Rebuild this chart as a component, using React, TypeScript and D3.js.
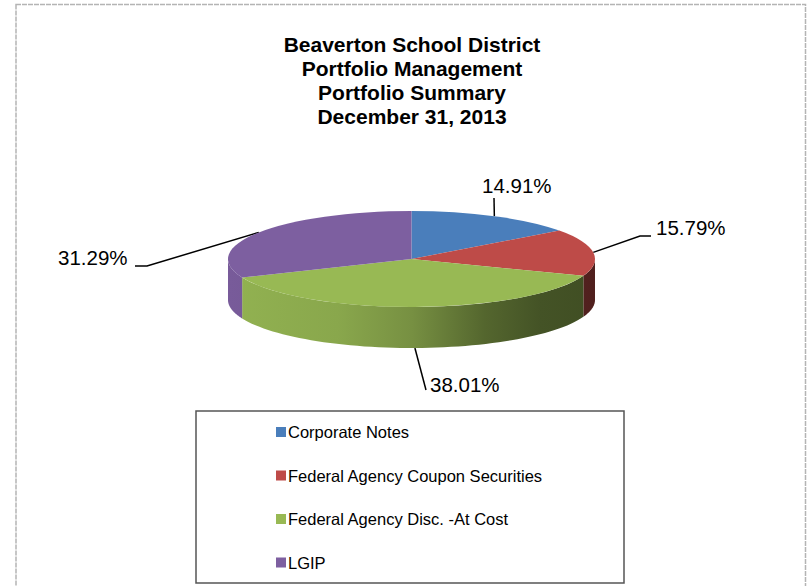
import React from 'react';
import * as d3 from 'd3';

const categories = [
  'Corporate Notes',
  'Federal Agency Coupon Securities',
  'Federal Agency Disc. -At Cost',
  'LGIP',
];
const values = [14.91, 15.79, 38.01, 31.29];
const colors = ['#4A7EBB', '#BE4B48', '#98B954', '#7D5FA0'];
const titleLines = [
  'Beaverton School District',
  'Portfolio Management',
  'Portfolio Summary',
  'December 31, 2013',
];

// layout (not data)
const W = 808;
const H = 586;
const cx = 411.5;
const cy = 259;
const rx = 183.5;
const ry = 48;
const depth = 41;
const FONT = '"Liberation Sans", Arial, sans-serif';

// label text placement + leader bend points
const labelLayout = [
  { tx: 482, ty: 193, pts: [[494, 198]] },
  { tx: 656, ty: 235, pts: [[651, 236], [640, 236]] },
  { tx: 430, ty: 392, pts: [[426, 390]] },
  { tx: 58, ty: 265, pts: [[135, 266], [147, 266]] },
];

const shadeStops: [number, number][] = [
  [0, 0.96],
  [0.3, 0.9],
  [0.5, 0.78],
  [0.7, 0.55],
  [0.85, 0.45],
  [1, 0.42],
];

function scaleColor(c: string, k: number) {
  const r = d3.rgb(c);
  return d3.rgb(r.r * k, r.g * k, r.b * k).formatHex();
}

const ex = (a: number) => cx + rx * Math.sin(a);
const ey = (a: number) => cy - ry * Math.cos(a);

export default function App() {
  const pie = d3.pie<number>().sort(null).value((d) => d)(values);
  const arc = d3.arc<d3.PieArcDatum<number>>().innerRadius(0).outerRadius(rx);
  const line = d3.line<[number, number]>();

  const sides = pie.map((p, i) => {
    const a0 = Math.max(p.startAngle, Math.PI / 2);
    const a1 = Math.min(p.endAngle, (3 * Math.PI) / 2);
    if (a1 <= a0) return null;
    const n = 60;
    const ts = d3.range(n + 1).map((k) => a0 + ((a1 - a0) * k) / n);
    const top: [number, number][] = ts.map((t) => [ex(t), ey(t)]);
    const bot: [number, number][] = ts
      .slice()
      .reverse()
      .map((t) => [ex(t), ey(t) + depth]);
    return { i, d: line([...top, ...bot])! + 'Z' };
  });

  const anchors = pie.map((p) => {
    const m = (p.startAngle + p.endAngle) / 2;
    const front = Math.cos(m) < -0.9;
    return [ex(m), ey(m) + (front ? depth : 0)] as [number, number];
  });

  return (
    <svg width={W} height={H} style={{ display: 'block', position: 'absolute', left: 0, top: 0 }}>
      <defs>
        {colors.map((c, i) => (
          <linearGradient
            key={i}
            id={`side${i}`}
            gradientUnits="userSpaceOnUse"
            x1={cx - rx}
            x2={cx + rx}
            y1={0}
            y2={0}
          >
            {shadeStops.map(([o, k], j) => (
              <stop key={j} offset={o} stopColor={scaleColor(c, k)} />
            ))}
          </linearGradient>
        ))}
      </defs>
      <rect x={0} y={0} width={W} height={H} fill="#fff" />
      <rect
        x={16}
        y={4.5}
        width={789.5}
        height={620}
        fill="#fff"
        stroke="#b4b4b4"
        strokeWidth={1.5}
        strokeDasharray="5 1"
      />
      {titleLines.map((t, i) => (
        <text
          key={i}
          x={412}
          y={52 + i * 24}
          textAnchor="middle"
          fontFamily={FONT}
          fontWeight="bold"
          fontSize={21}
        >
          {t}
        </text>
      ))}

      {/* leader lines (drawn under the pie) */}
      {labelLayout.map((l, i) => (
        <path
          key={i}
          d={line([...(l.pts as [number, number][]), anchors[i]])!}
          fill="none"
          stroke="#000"
          strokeWidth={1.5}
        />
      ))}

      {sides.map((s) =>
        s ? <path key={s.i} d={s.d} fill={`url(#side${s.i})`} /> : null
      )}
      <g transform={`translate(${cx},${cy}) scale(1,${ry / rx})`}>
        {pie.map((p, i) => (
          <path key={i} d={arc(p)!} fill={colors[i]} />
        ))}
      </g>

      {labelLayout.map((l, i) => (
        <text key={i} x={l.tx} y={l.ty} fontFamily={FONT} fontSize={20.5} fill="#000">
          {values[i].toFixed(2)}%
        </text>
      ))}

      <rect x={196} y={411} width={428} height={172} fill="#fff" stroke="#555" strokeWidth={1.5} />
      {categories.map((c, i) => (
        <g key={i} transform={`translate(276,${432 + i * 43.5})`}>
          <rect x={0} y={-5} width={10} height={10} fill={colors[i]} />
          <text x={12} y={6} fontFamily={FONT} fontSize={16.5} fill="#000">
            {c}
          </text>
        </g>
      ))}
    </svg>
  );
}
